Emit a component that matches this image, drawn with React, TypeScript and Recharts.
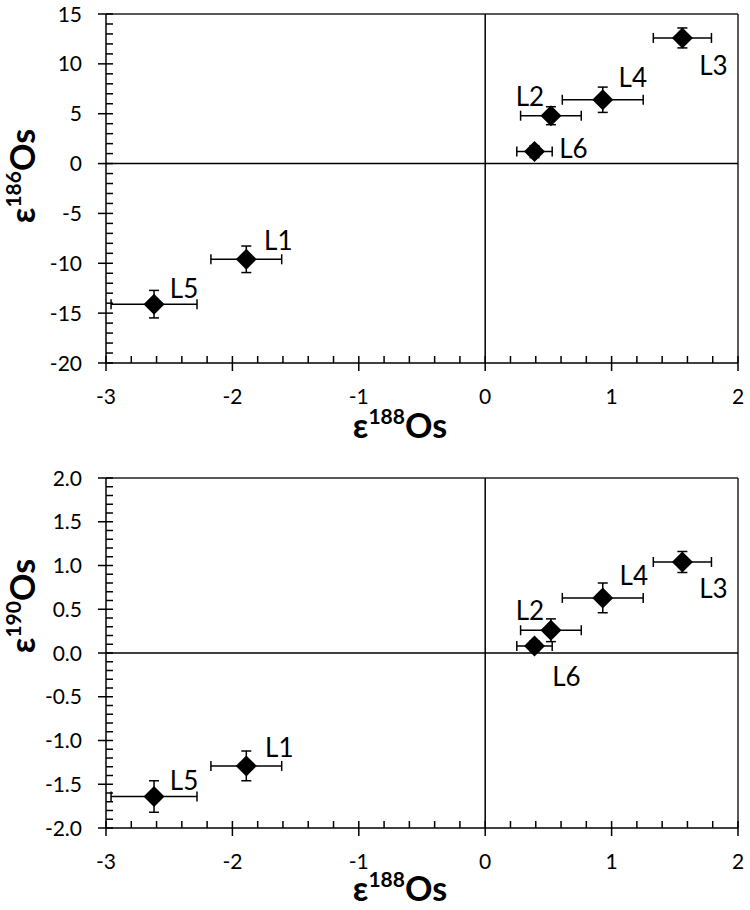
import React from 'react';
import { ScatterChart, Scatter, XAxis, YAxis, ErrorBar, ReferenceLine } from 'recharts';

// ---- data ----
const sampleNames = ['L1', 'L2', 'L3', 'L4', 'L5', 'L6'];
const eps188 = [-1.89, 0.52, 1.56, 0.93, -2.62, 0.39];
const eps188Err = [0.28, 0.24, 0.23, 0.32, 0.34, 0.14];
const eps186 = [-9.6, 4.8, 12.6, 6.4, -14.1, 1.2];
const eps186Err = [1.33, 0.9, 1.0, 1.27, 1.38, 0.6];
const eps190 = [-1.29, 0.26, 1.04, 0.63, -1.64, 0.08];
const eps190Err = [0.17, 0.13, 0.12, 0.17, 0.18, 0.06];

const xMajorTicks = [-3, -2, -1, 0, 1, 2];
const yTopMajorTicks = [-20, -15, -10, -5, 0, 5, 10, 15];
const yBottomMajorTicks = [-2, -1.5, -1, -0.5, 0, 0.5, 1, 1.5, 2];

const range = (a: number, b: number, step: number) =>
  Array.from({ length: Math.round((b - a) / step) + 1 }, (_, i) => Math.round((a + i * step) * 1000) / 1000);

const xAllTicks = range(-3, 2, 0.2);
const yTopAllTicks = range(-20, 15, 1);
const yBottomAllTicks = range(-2, 2, 0.1);

const topData = sampleNames.map((name, i) => ({ name, x: eps188[i], xErr: eps188Err[i], y: eps186[i], yErr: eps186Err[i] }));
const bottomData = sampleNames.map((name, i) => ({ name, x: eps188[i], xErr: eps188Err[i], y: eps190[i], yErr: eps190Err[i] }));

// label placement (pixel offsets from the marker centre)
const topLabelOffsets: Record<string, [number, number]> = {
  L1: [32, -18], L2: [-21, -19], L3: [31, 28], L4: [30, -22], L5: [30, -15], L6: [39, -3],
};
const bottomLabelOffsets: Record<string, [number, number]> = {
  L1: [33, -18], L2: [-21, -19], L3: [31, 27], L4: [31, -22], L5: [30, -16], L6: [32, 31],
};

const FONT = 'Lato, "Open Sans", sans-serif';
const INK = '#000';

const isMajor = (v: number, majors: number[]) => majors.some((m) => Math.abs(m - v) < 1e-6);

const makeXTick = (majors: number[]) => (props: any) => {
  const { x, y, payload } = props;
  const v = payload.value;
  const major = isMajor(v, majors);
  return (
    <g>
      <line x1={x} x2={x} y1={y - 7} y2={major ? y + 8 : y} stroke={INK} strokeWidth={1.5} />
      {major && (
        <text x={x} y={y + 41} textAnchor="middle" fontSize={21} fontFamily={FONT} fill={INK}>
          {String(v)}
        </text>
      )}
    </g>
  );
};

const makeYTick = (majors: number[], fmt: (v: number) => string) => (props: any) => {
  const { x, y, payload } = props;
  const v = payload.value;
  const major = isMajor(v, majors);
  return (
    <g>
      <line x1={major ? x - 8 : x} x2={x + 7} y1={y} y2={y} stroke={INK} strokeWidth={1.5} />
      {major && (
        <text x={x - 24} y={y + 7.5} textAnchor="end" fontSize={21} fontFamily={FONT} fill={INK}>
          {fmt(v)}
        </text>
      )}
    </g>
  );
};

const makeShape = (offsets: Record<string, [number, number]>) => (props: any) => {
  const { cx, cy, payload } = props;
  const h = 10.5;
  const off = offsets[payload.name] || [30, -20];
  return (
    <g>
      <polygon points={`${cx},${cy - h} ${cx + h},${cy} ${cx},${cy + h} ${cx - h},${cy}`} fill={INK} />
      <text x={cx + off[0]} y={cy + off[1] + 9} textAnchor="middle" fontSize={26} fontFamily={FONT} fill={INK}>
        {payload.name}
      </text>
    </g>
  );
};

const makeXTitle = (baselineOffset: number) => (props: any) => {
  const vb = props.viewBox || {};
  return (
    <text x={vb.x + 294} y={vb.y + baselineOffset} textAnchor="middle" fontFamily={FONT} fontWeight={700} fontSize={34} fill={INK}>
      <tspan>ε</tspan>
      <tspan fontSize={21} dy={-14}>188</tspan>
      <tspan dy={14}>Os</tspan>
    </text>
  );
};

const makeYTitle = (iso: string, centerY: number) => () => {
  const x = 35;
  return (
    <text
      x={x}
      y={centerY}
      transform={`rotate(-90, ${x}, ${centerY})`}
      textAnchor="middle"
      fontFamily={FONT}
      fontWeight={700}
      fontSize={34}
      fill={INK}
    >
      <tspan>ε</tspan>
      <tspan fontSize={21} dy={-14}>{iso}</tspan>
      <tspan dy={14}>Os</tspan>
    </text>
  );
};

type PanelProps = {
  data: any[];
  height: number;
  marginTop: number;
  xAxisHeight: number;
  xTitleOffset: number;
  yDomain: [number, number];
  yTicks: number[];
  yMajors: number[];
  fmt: (v: number) => string;
  iso: string;
  titleCenterY: number;
  offsets: Record<string, [number, number]>;
};

const Panel = ({ data, height, marginTop, xAxisHeight, xTitleOffset, yDomain, yTicks, yMajors, fmt, iso, titleCenterY, offsets }: PanelProps) => (
  <ScatterChart width={750} height={height} margin={{ top: marginTop, right: 12, bottom: 0, left: 0 }}>
    <XAxis
      type="number"
      dataKey="x"
      domain={[-3, 2]}
      ticks={xAllTicks}
      interval={0}
      allowDataOverflow
      height={xAxisHeight}
      tickSize={0}
      tickMargin={0}
      tickLine={false}
      axisLine={{ stroke: INK, strokeWidth: 1.5 }}
      tick={makeXTick(xMajorTicks)}
      label={{ content: makeXTitle(xTitleOffset) }}
    />
    <YAxis
      type="number"
      dataKey="y"
      domain={yDomain}
      ticks={yTicks}
      interval={0}
      allowDataOverflow
      width={106}
      tickSize={0}
      tickMargin={0}
      tickLine={false}
      axisLine={{ stroke: INK, strokeWidth: 1.5 }}
      tick={makeYTick(yMajors, fmt)}
      label={{ content: makeYTitle(iso, titleCenterY) }}
    />
    <ReferenceLine y={yDomain[1]} stroke="#222" strokeWidth={1.5} />
    <ReferenceLine x={2} stroke="#222" strokeWidth={1.5} />
    <ReferenceLine x={0} stroke={INK} strokeWidth={1.5} />
    <ReferenceLine y={0} stroke={INK} strokeWidth={1.5} />
    <Scatter data={data} isAnimationActive={false} shape={makeShape(offsets)}>
      <ErrorBar dataKey="xErr" direction="x" width={5} stroke={INK} strokeWidth={1.5} />
      <ErrorBar dataKey="yErr" direction="y" width={5} stroke={INK} strokeWidth={1.5} />
    </Scatter>
  </ScatterChart>
);

export default function App() {
  return (
    <div style={{ position: 'absolute', left: 0, top: 0, width: 750, height: 910, background: '#fff' }}>
      <Panel
        data={topData}
        height={450}
        marginTop={14}
        xAxisHeight={87}
        xTitleOffset={75}
        yDomain={[-20, 15]}
        yTicks={yTopAllTicks}
        yMajors={yTopMajorTicks}
        fmt={(v) => String(v)}
        iso="186"
        titleCenterY={176}
        offsets={topLabelOffsets}
      />
      <Panel
        data={bottomData}
        height={460}
        marginTop={28}
        xAxisHeight={82}
        xTitleOffset={73}
        yDomain={[-2, 2]}
        yTicks={yBottomAllTicks}
        yMajors={yBottomMajorTicks}
        fmt={(v) => v.toFixed(1)}
        iso="190"
        titleCenterY={156}
        offsets={bottomLabelOffsets}
      />
    </div>
  );
}
